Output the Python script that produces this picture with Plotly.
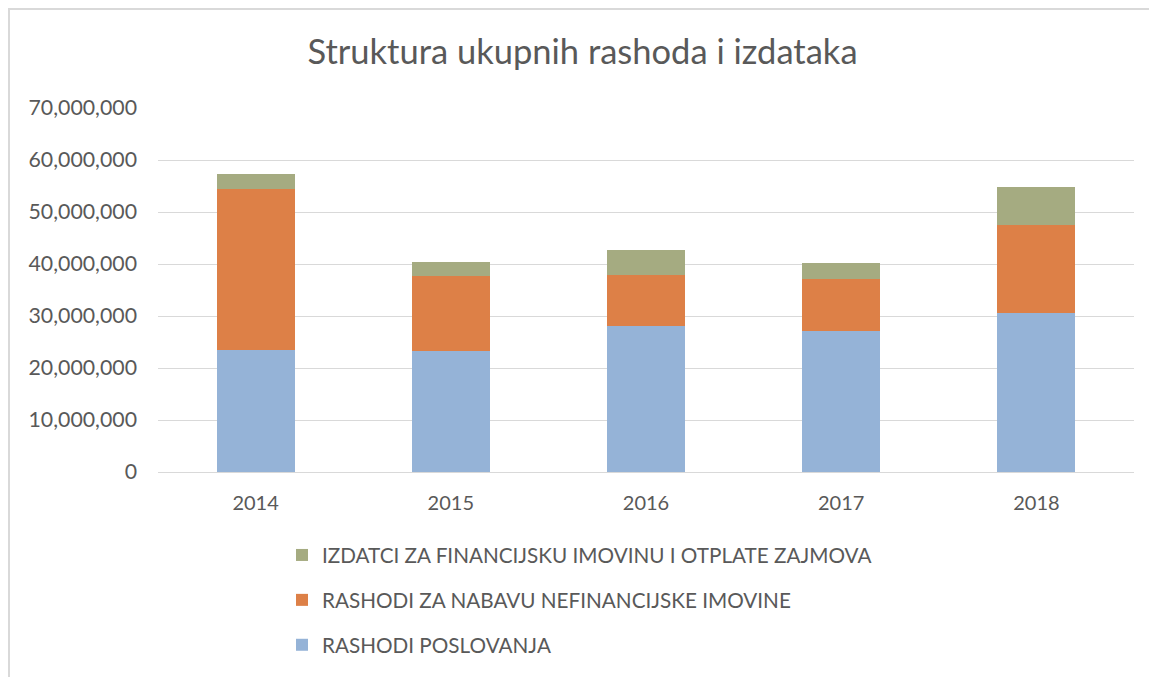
import plotly.graph_objects as go

years = ["2014", "2015", "2016", "2017", "2018"]
rashodi_poslovanja = [23500000, 23200000, 28000000, 27100000, 30500000]
rashodi_nabava = [30900000, 14400000, 9800000, 10100000, 17000000]
izdatci_financ = [2850000, 2700000, 4800000, 2900000, 7300000]

names = ["RASHODI POSLOVANJA", "RASHODI ZA NABAVU NEFINANCIJSKE IMOVINE",
         "IZDATCI ZA FINANCIJSKU IMOVINU I OTPLATE ZAJMOVA"]
colors = ["#95B3D7", "#DD8047", "#A5AB81"]
series = [rashodi_poslovanja, rashodi_nabava, izdatci_financ]
ranks = [3, 2, 1]

fig = go.Figure()
for i, (n, c, s) in enumerate(zip(names, colors, series)):
    fig.add_trace(go.Bar(x=years, y=s, name=n, marker=dict(color=c, line=dict(width=0)),
                         legendgroup=str(i), legendrank=ranks[i]))

W, H = 1149, 669
L, R, T, B = 150, 23, 100, 205
PW, PH = W - L - R, H - T - B

font_family = "Lato, 'Open Sans', sans-serif"
fig.update_layout(
    barmode="stack",
    bargap=0.6,
    width=W, height=H,
    paper_bgcolor="white", plot_bgcolor="white",
    margin=dict(l=L, r=R, t=T, b=B, autoexpand=False),
    title=dict(text="Struktura ukupnih rashoda i izdataka", x=0.5, xanchor="center",
               y=1 - 44 / H, yanchor="middle",
               font=dict(family=font_family, size=34.5, color="#595959")),
    font=dict(family=font_family, size=20, color="#595959"),
    yaxis=dict(range=[0, 70000000], dtick=10000000, tickformat=",.0f",
               gridcolor="#D9D9D9", gridwidth=1, zeroline=False,
               showline=False, ticks="", ticklen=0, automargin=False,
               ticklabelstandoff=20,
               tickfont=dict(size=21.3, color="#595959")),
    xaxis=dict(showline=True, linecolor="#D9D9D9", linewidth=1, ticks="",
               automargin=False, ticklabelstandoff=13,
               tickfont=dict(size=20, color="#595959")),
    legend=dict(orientation="v", x=(274 - L) / PW, xanchor="left",
                y=(464 - 527) / PH, yanchor="top",
                traceorder="grouped", tracegroupgap=15,
                font=dict(size=20.7, color="#595959"), itemwidth=30),
    shapes=[dict(type="rect", xref="paper", yref="paper",
                 x0=(1 - L) / PW, x1=1 + 40 / PW, y0=-(B + 20) / PH, y1=1 + (T - 1) / PH,
                 line=dict(color="#D9D9D9", width=2), fillcolor="rgba(0,0,0,0)")],
)

fig.write_html("out.html")
